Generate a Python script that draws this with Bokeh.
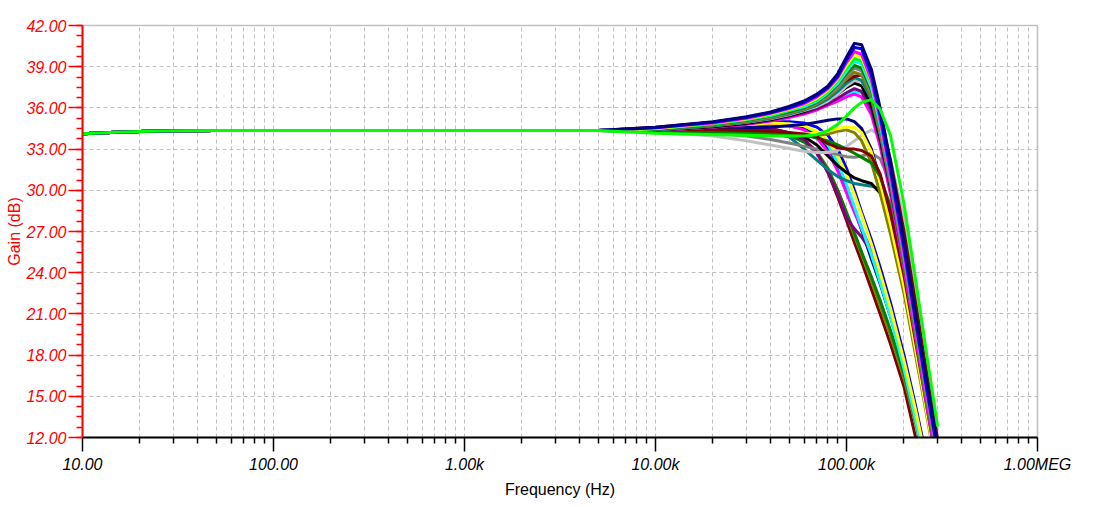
import numpy as np
from bokeh.plotting import figure
from bokeh.models import FixedTicker
from bokeh.embed import file_html
from bokeh.resources import INLINE

# ---------------- data ----------------
# shared low-frequency part (all Monte Carlo runs coincide here)
lf_freq = [10, 15, 20, 30, 50, 100, 1000, 5000]
lf_gain = [34.12, 34.22, 34.28, 34.33, 34.35, 34.35, 34.35, 34.35]

# high-frequency grid (Hz)
hf_freq = [10e3, 20e3, 30e3, 40e3, 50e3, 60e3, 70e3, 80e3, 90e3, 100e3,
           110e3, 120e3, 135e3, 150e3, 170e3, 200e3, 230e3, 260e3, 300e3]

# early roll-off runs
e01 = [34.40, 34.55, 34.60, 34.50, 34.20, 33.70, 32.80, 31.30, 29.50, 27.80, 26.20, 24.80, 22.80, 21.00, 18.80, 15.70, 12.00, 8.50, 4.00]
e02 = [34.35, 34.45, 34.50, 34.40, 34.10, 33.60, 32.80, 31.60, 30.00, 28.30, 26.70, 25.30, 23.40, 21.60, 19.40, 16.30, 13.00, 9.80, 5.50]
e03 = [34.35, 34.45, 34.45, 34.30, 34.00, 33.50, 32.70, 31.50, 30.00, 28.40, 26.90, 25.50, 23.70, 22.00, 19.80, 16.70, 13.40, 10.20, 6.00]
e04 = [34.40, 34.55, 34.65, 34.70, 34.70, 34.50, 34.00, 33.00, 31.70, 30.20, 28.60, 27.10, 25.00, 23.20, 20.80, 17.30, 13.60, 10.00, 5.50]
e05 = [34.35, 34.50, 34.60, 34.50, 34.20, 33.70, 32.70, 31.30, 29.70, 28.00, 27.20, 26.60, 25.50, 24.00, 21.50, 17.50, 13.50, 9.50, 5.00]
e06 = [34.40, 34.60, 34.75, 34.80, 34.70, 34.40, 33.80, 32.80, 31.40, 29.80, 28.40, 27.20, 25.60, 24.00, 21.60, 17.80, 13.90, 10.30, 5.80]
e07 = [34.45, 34.65, 34.85, 34.95, 34.90, 34.70, 34.20, 33.30, 32.00, 30.40, 28.80, 27.30, 25.30, 23.30, 20.80, 17.00, 13.30, 9.80, 5.30]
e08 = [34.45, 34.65, 34.85, 35.00, 35.00, 34.90, 34.60, 34.00, 33.00, 31.60, 30.00, 28.40, 26.40, 24.40, 21.80, 18.00, 14.30, 10.80, 6.30]
e09 = [34.40, 34.60, 34.80, 34.90, 34.85, 34.70, 34.30, 33.60, 32.50, 31.20, 29.70, 28.20, 26.10, 24.00, 21.40, 17.60, 14.00, 10.50, 6.00]

# runs with a dip / plateau before the roll-off
d01 = [34.30, 34.30, 34.25, 34.15, 33.90, 33.00, 32.20, 31.50, 31.00, 30.70, 30.50, 30.40, 30.30, 30.10, 29.00, 25.50, 20.50, 16.30, 11.30]
d02 = [34.30, 34.15, 33.95, 33.70, 33.45, 33.20, 33.00, 32.80, 32.60, 32.45, 32.40, 32.50, 32.70, 32.30, 30.50, 26.50, 21.30, 16.80, 11.50]
d03 = [34.30, 34.30, 34.25, 34.20, 34.10, 33.90, 33.30, 32.50, 31.80, 31.30, 30.90, 30.70, 30.50, 29.80, 27.80, 24.00, 19.30, 15.00, 10.00]
d04 = [34.25, 33.95, 33.60, 33.30, 33.05, 32.85, 32.75, 32.75, 32.90, 33.20, 33.60, 34.00, 34.40, 34.00, 32.20, 28.00, 22.80, 18.00, 12.50]
d05 = [34.35, 34.35, 34.30, 34.20, 34.10, 34.00, 34.00, 34.10, 34.30, 34.40, 34.20, 33.60, 32.00, 29.80, 26.80, 22.50, 18.00, 14.00, 9.20]
d06 = [34.40, 34.50, 34.55, 34.60, 34.70, 34.80, 34.95, 35.10, 35.20, 35.20, 35.00, 34.50, 33.00, 30.80, 27.80, 23.30, 18.60, 14.40, 9.50]
d07 = [34.35, 34.30, 34.25, 34.20, 34.15, 34.10, 34.15, 34.30, 34.50, 34.60, 34.60, 34.20, 32.80, 30.60, 27.50, 23.00, 18.40, 14.20, 9.30]
d08 = [34.30, 34.25, 34.20, 34.15, 34.10, 34.00, 33.80, 33.60, 33.30, 33.00, 32.70, 32.40, 32.00, 31.00, 28.80, 24.50, 19.70, 15.40, 10.40]
d09 = [34.40, 34.40, 34.35, 34.30, 34.20, 34.10, 33.90, 33.40, 33.10, 33.00, 33.00, 32.90, 32.50, 31.20, 28.30, 23.80, 19.00, 14.70, 9.70]

# peaking runs
p01 = [34.60, 35.00, 35.35, 35.70, 36.10, 36.50, 37.00, 37.60, 38.50, 39.70, 40.70, 40.60, 38.80, 36.00, 32.00, 26.30, 21.00, 16.50, 11.50]
p02 = [34.55, 34.95, 35.30, 35.65, 36.00, 36.40, 36.90, 37.50, 38.30, 39.50, 40.40, 40.30, 38.40, 35.50, 31.50, 25.80, 20.50, 16.00, 11.00]
p03 = [34.55, 34.90, 35.25, 35.60, 35.95, 36.30, 36.80, 37.40, 38.20, 39.30, 40.10, 39.90, 38.00, 35.10, 31.10, 25.40, 20.20, 15.70, 10.70]
p04 = [34.50, 34.90, 35.20, 35.55, 35.90, 36.25, 36.70, 37.30, 38.10, 39.10, 39.90, 39.70, 37.90, 35.10, 31.20, 25.60, 20.40, 15.90, 10.90]
p05 = [34.50, 34.85, 35.15, 35.50, 35.85, 36.20, 36.60, 37.20, 38.00, 38.90, 39.60, 39.40, 37.80, 35.20, 31.40, 25.80, 20.70, 16.20, 11.20]
p06 = [34.50, 34.85, 35.15, 35.45, 35.80, 36.10, 36.50, 37.10, 37.80, 38.70, 39.40, 39.20, 37.50, 34.80, 31.00, 25.30, 20.20, 15.70, 10.70]
p07 = [34.45, 34.80, 35.10, 35.40, 35.70, 36.00, 36.40, 37.00, 37.70, 38.50, 39.10, 38.90, 37.30, 34.70, 31.00, 25.40, 20.30, 15.80, 10.80]
p08 = [34.45, 34.80, 35.05, 35.35, 35.65, 35.95, 36.35, 36.90, 37.50, 38.30, 38.90, 38.70, 37.10, 34.50, 30.80, 25.10, 20.00, 15.50, 10.50]
p09 = [34.45, 34.75, 35.00, 35.30, 35.60, 35.90, 36.30, 36.80, 37.40, 38.10, 38.60, 38.40, 36.80, 34.20, 30.50, 24.80, 19.70, 15.20, 10.20]
p10 = [34.60, 34.95, 35.30, 35.65, 35.95, 36.25, 36.60, 37.00, 37.50, 38.00, 38.30, 38.40, 37.50, 35.50, 32.20, 27.00, 21.80, 17.10, 11.90]
p11 = [34.40, 34.70, 34.95, 35.25, 35.55, 35.85, 36.20, 36.65, 37.20, 37.80, 38.20, 38.00, 36.60, 34.10, 30.40, 24.70, 19.60, 15.10, 10.10]
p12 = [34.40, 34.70, 34.95, 35.20, 35.50, 35.80, 36.10, 36.50, 37.00, 37.60, 38.00, 37.90, 36.80, 34.70, 31.20, 26.00, 21.00, 16.50, 11.50]
p13 = [34.40, 34.65, 34.90, 35.15, 35.45, 35.75, 36.10, 36.50, 37.00, 37.50, 37.80, 37.60, 36.20, 33.80, 30.30, 24.90, 19.90, 15.40, 10.40]
p14 = [34.35, 34.60, 34.85, 35.10, 35.40, 35.65, 35.95, 36.30, 36.70, 37.10, 37.40, 37.20, 35.90, 33.60, 30.10, 24.70, 19.70, 15.20, 10.20]
p15 = [34.35, 34.60, 34.80, 35.05, 35.30, 35.55, 35.85, 36.20, 36.50, 36.80, 37.00, 36.80, 35.50, 33.20, 29.70, 24.30, 19.30, 14.80, 9.80]
p16 = [34.35, 34.60, 34.85, 35.10, 35.35, 35.60, 35.90, 36.25, 36.60, 36.95, 37.20, 37.10, 36.10, 34.00, 30.60, 25.50, 20.60, 16.10, 11.10]
p17 = [34.15, 34.05, 34.00, 33.95, 33.95, 33.95, 34.05, 34.35, 34.80, 35.40, 36.00, 36.40, 36.60, 35.90, 34.00, 29.00, 23.50, 18.50, 12.80]

run_values = [e01, e02, e03, e04, e05, e06, e07, e08, e09,
              d01, d02, d03, d04, d05, d06, d07, d08, d09,
              p16, p15, p14, p13, p12, p11, p10, p09, p08, p07, p06, p05, p04, p03, p02, p01, p17]
run_colors = ["#800000", "#808000", "#008000", "#000080", "#800080", "#FF00FF", "#00FFFF", "#0000FF", "#FFFF00",
              "#008080", "#808080", "#000000", "#C0C0C0", "#808000", "#000080", "#FFFF00", "#008000", "#800000",
              "#00FFFF", "#FF00FF", "#800080", "#000000", "#C0C0C0", "#008080", "#800000", "#808000", "#808080",
              "#008000", "#00FFFF", "#00FF00", "#FFFF00", "#FF00FF", "#0000FF", "#000080", "#00FF00"]

y_major = [12, 15, 18, 21, 24, 27, 30, 33, 36, 39, 42]
x_major = [10, 100, 1000, 10000, 100000, 1000000]
x_labels = ["10.00", "100.00", "1.00k", "10.00k", "100.00k", "1.00MEG"]
x_title = "Frequency (Hz)"
y_title = "Gain (dB)"

# ---------------- figure ----------------
W, H = 1098, 507
FRAME_L, FRAME_R, FRAME_T, FRAME_B = 82, 1037, 25, 437
font = "Liberation Sans"

p = figure(width=W, height=H, x_axis_type="log",
           x_range=(10, 1e6), y_range=(12, 42),
           output_backend="svg", toolbar_location=None,
           min_border_left=FRAME_L, min_border_right=W - FRAME_R,
           min_border_top=FRAME_T, min_border_bottom=H - FRAME_B,
           background_fill_color="white", border_fill_color="white")
p.outline_line_color = "#C0C0C0"
p.outline_line_width = 1.5

freq_all = lf_freq + hf_freq
for vals, col in zip(run_values, run_colors):
    p.line(freq_all, lf_gain + vals, line_color=col, line_width=3, line_join="round")

x_minor = [k * d for d in [10, 100, 1000, 10000, 100000] for k in range(2, 10)]
y_minor = list(np.arange(12, 42.01, 0.75))

xa = p.xaxis[0]
xa.ticker = FixedTicker(ticks=x_major, minor_ticks=x_minor)
xa.major_label_overrides = {t: s for t, s in zip(x_major, x_labels)}
xa.axis_line_color = "black"
xa.axis_line_width = 2
xa.major_tick_line_color = "black"
xa.minor_tick_line_color = "black"
xa.major_tick_line_width = 1.5
xa.minor_tick_line_width = 1.5
xa.major_tick_out = 14
xa.major_tick_in = 0
xa.minor_tick_out = 6
xa.minor_tick_in = 0
xa.major_label_text_font = font
xa.major_label_text_font_style = "italic"
xa.major_label_text_font_size = "16px"
xa.major_label_text_color = "black"
xa.major_label_standoff = 4
xa.axis_label = x_title
xa.axis_label_text_font = font
xa.axis_label_text_font_style = "normal"
xa.axis_label_text_font_size = "16px"
xa.axis_label_text_color = "black"
xa.axis_label_standoff = 5

ya = p.yaxis[0]
ya.ticker = FixedTicker(ticks=y_major, minor_ticks=y_minor)
ya.major_label_overrides = {t: "%.2f" % t for t in y_major}
ya.axis_line_color = "red"
ya.axis_line_width = 2
ya.major_tick_line_color = "red"
ya.minor_tick_line_color = "red"
ya.major_tick_line_width = 1.5
ya.minor_tick_line_width = 1.5
ya.major_tick_out = 14
ya.major_tick_in = 0
ya.minor_tick_out = 6
ya.minor_tick_in = 0
ya.major_label_text_font = font
ya.major_label_text_font_style = "italic"
ya.major_label_text_font_size = "16px"
ya.major_label_text_color = "red"
ya.major_label_standoff = 2
ya.axis_label = y_title
ya.axis_label_text_font = font
ya.axis_label_text_font_style = "normal"
ya.axis_label_text_font_size = "16px"
ya.axis_label_text_color = "red"
ya.axis_label_standoff = 0

p.xgrid.grid_line_color = "#C0C0C0"
p.xgrid.grid_line_dash = "4 3"
p.xgrid.grid_line_width = 1
p.xgrid.minor_grid_line_color = "#C0C0C0"
p.xgrid.minor_grid_line_dash = "4 3"
p.xgrid.minor_grid_line_width = 1
p.ygrid.grid_line_color = "#C0C0C0"
p.ygrid.grid_line_dash = "4 3"
p.ygrid.grid_line_width = 1

open("out.html", "w").write(file_html(p, INLINE))
